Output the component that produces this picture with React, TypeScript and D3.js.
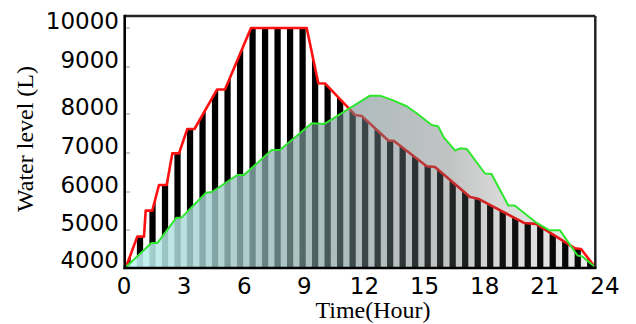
import React from 'react';
import * as d3 from 'd3';

// Red line: tank water level (hours, litres)
const redHours = [0, 0.578, 0.921, 1.008, 1.346, 1.689, 2.083, 2.369, 2.712, 3.137, 3.505, 4.657, 5.066, 6.397, 9.247, 9.841, 10.183, 11.719, 12.062, 13.423, 13.714, 15.388, 15.812, 17.604, 18.064, 20.367, 20.981, 22.977, 23.284, 24];
const redLevels = [4000, 4820, 4820, 5510, 5510, 6180, 6180, 6990, 6990, 7615, 7615, 8520, 8520, 10000, 10000, 8655, 8650, 7975, 7950, 7320, 7310, 6660, 6640, 5870, 5815, 5185, 5160, 4505, 4485, 4000];

// Green line
const greenHours = [0, 1.305, 1.612, 2.584, 2.84, 4.094, 4.401, 5.696, 6.038, 7.456, 7.881, 9.503, 10.158, 12.486, 12.998, 13.612, 14.364, 14.876, 15.644, 15.966, 16.273, 16.836, 17.092, 17.435, 18.371, 18.704, 19.564, 19.891, 21.017, 21.672, 22.209, 23.105, 23.335, 24];
const greenLevels = [4000, 4650, 4650, 5325, 5325, 5980, 6000, 6435, 6435, 7075, 7075, 7760, 7745, 8390, 8390, 8300, 8165, 8015, 7720, 7685, 7395, 7065, 7120, 7105, 6475, 6460, 5645, 5645, 5185, 4990, 4990, 4310, 4290, 4000];

const xTicks = [0, 3, 6, 9, 12, 15, 18, 21, 24];
const yTicks = [4000, 5000, 6000, 7000, 8000, 9000, 10000];

const BAR_COUNT = 38;
const BAR_PERIOD = 24 / 37.5; // hours per stripe period

export default function App() {
  const W = 636, H = 324;
  const left = 126, right = 595, top = 16, bottom = 267;

  const x = d3.scaleLinear().domain([0, 24]).range([left, right]);
  const y = d3.scaleLinear().domain(yTicks).range([267, 230, 192, 153, 114, 67, 28]);
  const xLabel = d3.scaleLinear().domain([0, 24]).range([left - 2, right + 10]);

  const red = redHours.map((h, i) => [h, redLevels[i]] as [number, number]);
  const green = greenHours.map((h, i) => [h, greenLevels[i]] as [number, number]);

  const line = d3.line<[number, number]>().x(d => x(d[0])).y(d => y(d[1]));
  const area = d3.area<[number, number]>().x(d => x(d[0])).y0(y(4000)).y1(d => y(d[1]));

  const barHours = d3.range(BAR_COUNT).map(i => (i + 0.12) * BAR_PERIOD);
  const barW = x(BAR_PERIOD / 2) - x(0);

  const stops = [
    { o: 0, c: 'rgb(194,247,247)', a: 0.9 },
    { o: 0.243, c: 'rgb(154,192,192)', a: 0.78 },
    { o: 0.478, c: 'rgb(110,136,139)', a: 0.56 },
    { o: 0.69, c: 'rgb(95,100,100)', a: 0.38 },
    { o: 0.8, c: 'rgb(80,82,82)', a: 0.22 },
    { o: 1, c: 'rgb(40,40,40)', a: 0.08 },
  ];

  return (
    <svg width={W} height={H} style={{ position: 'absolute', left: 0, top: 0, background: '#fff' }}>
      <defs>
        <clipPath id="redClip">
          <path d={area(red) || ''} />
        </clipPath>
        <linearGradient id="fillGrad" gradientUnits="userSpaceOnUse" x1={x(0)} x2={x(24)} y1={0} y2={0}>
          {stops.map((s, i) => (
            <stop key={i} offset={s.o} stopColor={s.c} stopOpacity={s.a} />
          ))}
        </linearGradient>
      </defs>
      <rect x={0} y={0} width={W} height={H} fill="#fff" />
      <g clipPath="url(#redClip)">
        {barHours.map((h, i) => (
          <rect key={i} x={x(h) - barW / 2} y={y(10000) - 5} width={barW} height={y(4000) - y(10000) + 10} fill="#000" />
        ))}
      </g>
      <path d={line(red) || ''} fill="none" stroke="#ff1010" strokeWidth={2.6} strokeLinejoin="round" />
      <path d={area(green) || ''} fill="url(#fillGrad)" />
      <path d={line(green) || ''} fill="none" stroke="#2ee62e" strokeWidth={2} strokeLinejoin="round" />

      {/* left ticks */}
      {yTicks.slice(1).map(t => (
        <line key={t} x1={left} x2={left + 4} y1={y(t)} y2={y(t)} stroke="#999" strokeWidth={1} />
      ))}
      {/* frame */}
      <line x1={left - 1.3} x2={right + 0.3} y1={top} y2={top} stroke="#222" strokeWidth={2.5} />
      <line x1={right + 0.3} x2={right + 0.3} y1={top} y2={268} stroke="#222" strokeWidth={2.5} />
      <line x1={left - 1.3} x2={left - 1.3} y1={top - 1.2} y2={269.2} stroke="#000" strokeWidth={2.6} />
      <line x1={left - 2.5} x2={right + 1.5} y1={268} y2={268} stroke="#000" strokeWidth={2.6} />

      {yTicks.map(t => (
        <text key={t} x={119} y={y(t) + 0.5} textAnchor="end" fontFamily="DejaVu Sans" fontSize={23} fill="#000">{t}</text>
      ))}
      {xTicks.map(t => (
        <text key={t} x={xLabel(t)} y={294} textAnchor="middle" fontFamily="DejaVu Sans" fontSize={23} fill="#000">{t}</text>
      ))}
      <text x={373} y={318} textAnchor="middle" fontFamily="Liberation Serif" fontSize={24} fill="#000">Time(Hour)</text>
      <text transform="translate(33,139) rotate(-90)" textAnchor="middle" fontFamily="Liberation Serif" fontSize={24} fill="#000">Water level (L)</text>
    </svg>
  );
}
